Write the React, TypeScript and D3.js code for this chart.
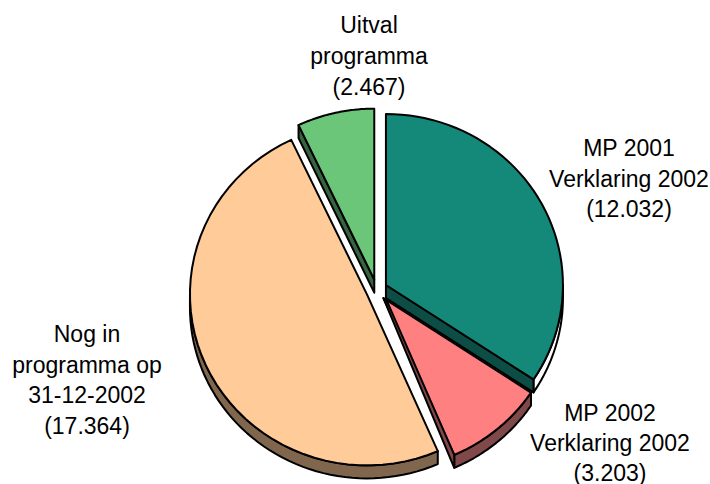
import React from "react";
import * as d3 from "d3";

const sliceNames = ["MP 2001 Verklaring 2002", "MP 2002 Verklaring 2002", "Nog in programma op 31-12-2002", "Uitval programma"];
const sliceValues = [12032, 3203, 17364, 2467];
const topColors = ["#14897a", "#ff8080", "#ffcc99", "#6cc67a"];
const sideColors = ["#0c4d45", "#804848", "#80664d", "#366340"];
const rimColors = ["#ffffff", "#804848", "#80664d", "#366340"];
const labelLines = [
  ["MP 2001", "Verklaring 2002", "(12.032)"],
  ["MP 2002", "Verklaring 2002", "(3.203)"],
  ["Nog in", "programma op", "31-12-2002", "(17.364)"],
  ["Uitval", "programma", "(2.467)"],
];
const labelCenters = [629, 610, 87, 369];
const labelBaselines = [156, 421, 342, 33];
const labelSpacing = [30.7, 30, 30.5, 31];

const CX = 376.6, CY = 290, RX = 177, RY = 171, EXPLODE = 10.6, DEPTH = 13;
const INK = "#000";

type Pt = [number, number];
const line = d3.line<Pt>();
const close = (pts: Pt[]) => line(pts) + "Z";

export default function App() {
  const arcs = d3.pie<number>().sort(null).value((d) => d)(sliceValues);
  const faces = arcs.map((a, i) => {
    const mid = (a.startAngle + a.endAngle) / 2;
    const ax = CX + EXPLODE * Math.sin(mid);
    const ay = CY - EXPLODE * Math.cos(mid);
    const at = (t: number, dy = 0): Pt => [ax + RX * Math.sin(t), ay - RY * Math.cos(t) + dy];
    const rim = (from: number, to: number, dy = 0): Pt[] =>
      d3.range(0, 49).map((k) => at(from + ((to - from) * k) / 48, dy));
    const apex: Pt = [ax, ay];
    const top = close([apex, ...rim(a.startAngle, a.endAngle)]);
    const s = Math.max(a.startAngle, Math.PI / 2);
    const e = Math.min(a.endAngle, (3 * Math.PI) / 2);
    const band = e > s ? close([...rim(s, e), ...rim(s, e, DEPTH).reverse()]) : null;
    const startSide = close([apex, [ax, ay + DEPTH], at(a.startAngle, DEPTH), at(a.startAngle)]);
    const endSide = close([apex, [ax, ay + DEPTH], at(a.endAngle, DEPTH), at(a.endAngle)]);
    return { i, top, band, startSide, endSide, apex, at, a };
  });

  const stroke = { stroke: INK, strokeWidth: 2, strokeLinejoin: "round" as const };
  const [teal, pink, orange, green] = faces;
  const pinkEndRim = pink.at(pink.a.endAngle);
  const pinkEndLow = pink.at(pink.a.endAngle, DEPTH);
  const pinkInner: Pt = [pink.apex[0] + 4, pink.apex[1] + 4];

  return (
    <svg width={710} height={484} style={{ position: "absolute", left: 0, top: 0, background: "#fff" }}>
      <path d={orange.band!} fill={rimColors[2]} {...stroke} />
      <path d={orange.top} fill={topColors[2]} {...stroke} />
      <path d={green.startSide} fill={sideColors[3]} {...stroke} />
      <path d={green.top} fill={topColors[3]} {...stroke} />
      <path d={pink.band!} fill={rimColors[1]} {...stroke} />
      <path d={pink.top} fill={topColors[1]} {...stroke} />
      <path d={close([pink.apex, pinkEndLow, pinkEndRim, pinkInner])} fill={sideColors[1]} {...stroke} />
      <path d={teal.band!} fill={rimColors[0]} {...stroke} />
      <path d={teal.endSide} fill={sideColors[0]} {...stroke} />
      <path d={teal.top} fill={topColors[0]} {...stroke} />

      {labelLines.map((lines, i) => (
        <text key={sliceNames[i]} textAnchor="middle" fontFamily="'Liberation Sans', Arial, sans-serif" fontSize={23} fill="#000">
          {lines.map((t, j) => (
            <tspan key={j} x={labelCenters[i]} y={labelBaselines[i] + j * labelSpacing[i]}>{t}</tspan>
          ))}
        </text>
      ))}
    </svg>
  );
}
